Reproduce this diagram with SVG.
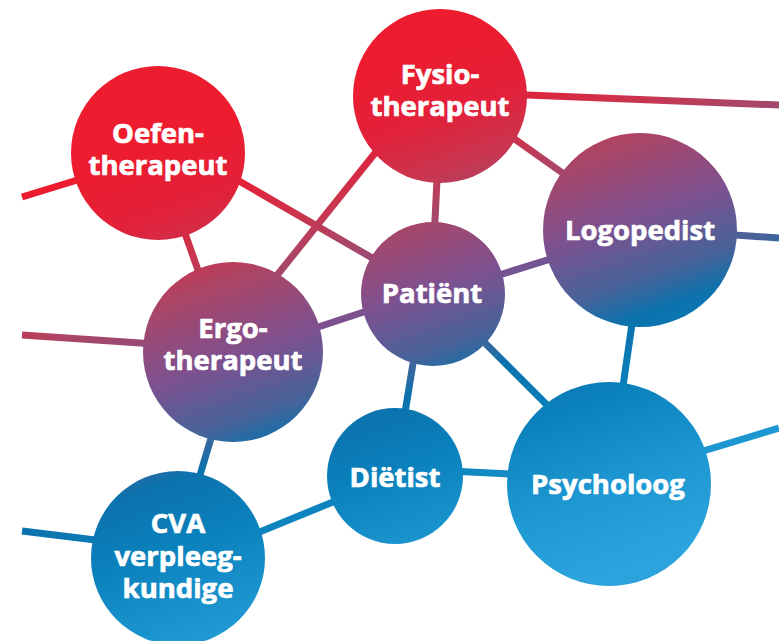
<svg xmlns="http://www.w3.org/2000/svg" width="779" height="641" viewBox="0 0 779 641">
  <defs>
    <linearGradient id="grad" gradientUnits="userSpaceOnUse" x1="0" y1="0" x2="280.6" y2="801.8">
      <stop offset="0.22" stop-color="#ed1c2e"/>
      <stop offset="0.30" stop-color="#e2213a"/>
      <stop offset="0.36" stop-color="#c9354f"/>
      <stop offset="0.40" stop-color="#ac4565"/>
      <stop offset="0.49" stop-color="#7c5190"/>
      <stop offset="0.56" stop-color="#466399"/>
      <stop offset="0.60" stop-color="#0c72ad"/>
      <stop offset="0.67" stop-color="#0a80bb"/>
      <stop offset="0.78" stop-color="#1e98d2"/>
      <stop offset="0.87" stop-color="#2ca3dc"/>
    </linearGradient>
    <style>
      .edge { stroke: url(#grad); stroke-width: 7; fill: none; }
      .node { fill: url(#grad); }
      .lbl { fill: #ffffff; stroke: #ffffff; stroke-width: 0.7; font-family: "Open Sans", "Liberation Sans", sans-serif; font-weight: 700; font-size: 27.5px; text-anchor: middle; }
    </style>
  </defs>
  <rect width="779" height="641" fill="#ffffff"/>
  <g id="connectors">
    <line class="edge" x1="22" y1="197" x2="110" y2="170"/>
    <line class="edge" x1="175" y1="205" x2="205" y2="290"/>
    <line class="edge" x1="220" y1="170" x2="400" y2="274"/>
    <line class="edge" x1="400" y1="122" x2="262" y2="294"/>
    <line class="edge" x1="438" y1="160" x2="434" y2="240"/>
    <line class="edge" x1="495" y1="125" x2="585" y2="189"/>
    <line class="edge" x1="500" y1="94" x2="779" y2="105"/>
    <line class="edge" x1="480" y1="281" x2="570" y2="253"/>
    <line class="edge" x1="720" y1="234" x2="779" y2="238"/>
    <line class="edge" x1="300" y1="333" x2="385" y2="305"/>
    <line class="edge" x1="22" y1="335" x2="170" y2="345"/>
    <line class="edge" x1="215" y1="425" x2="194" y2="495"/>
    <line class="edge" x1="22" y1="531" x2="120" y2="543"/>
    <line class="edge" x1="240" y1="540" x2="350" y2="495"/>
    <line class="edge" x1="416" y1="345" x2="403" y2="425"/>
    <line class="edge" x1="470" y1="328" x2="565" y2="423"/>
    <line class="edge" x1="450" y1="471" x2="530" y2="475"/>
    <line class="edge" x1="634" y1="310" x2="621" y2="400"/>
    <line class="edge" x1="690" y1="455" x2="779" y2="428"/>
  </g>
  <g id="node-oefentherapeut">
    <circle class="node" cx="158" cy="153" r="87"/>
    <text class="lbl" x="158" y="143">Oefen-<tspan x="158" dy="32">therapeut</tspan></text>
  </g>
  <g id="node-fysiotherapeut">
    <circle class="node" cx="440" cy="96" r="87"/>
    <text class="lbl" x="440" y="84">Fysio-<tspan x="440" dy="32">therapeut</tspan></text>
  </g>
  <g id="node-logopedist">
    <circle class="node" cx="640" cy="230" r="97"/>
    <text class="lbl" x="640" y="240">Logopedist</text>
  </g>
  <g id="node-patient">
    <circle class="node" cx="433" cy="294" r="72"/>
    <text class="lbl" x="432" y="303">Patiënt</text>
  </g>
  <g id="node-ergotherapeut">
    <circle class="node" cx="233" cy="352" r="90"/>
    <text class="lbl" x="233" y="338">Ergo-<tspan x="233" dy="32">therapeut</tspan></text>
  </g>
  <g id="node-dietist">
    <circle class="node" cx="395" cy="476" r="68"/>
    <text class="lbl" x="395" y="487">Diëtist</text>
  </g>
  <g id="node-psycholoog">
    <circle class="node" cx="609" cy="484" r="102"/>
    <text class="lbl" x="608" y="494">Psycholoog</text>
  </g>
  <g id="node-cva">
    <circle class="node" cx="178" cy="558" r="87"/>
    <text class="lbl" x="178" y="533">CVA<tspan x="178" dy="33">verpleeg-</tspan><tspan x="178" dy="32">kundige</tspan></text>
  </g>
</svg>
